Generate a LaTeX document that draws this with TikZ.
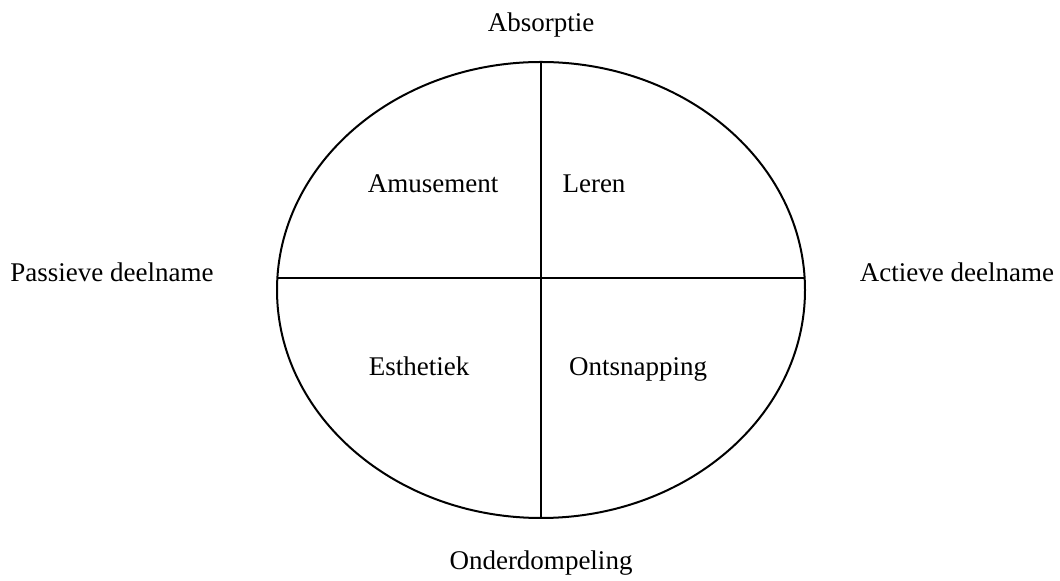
\documentclass[tikz,border=0pt]{standalone}
\usepackage{fontspec}
\setmainfont{Liberation Serif}
\usetikzlibrary{shapes.geometric}

\begin{document}
\begin{tikzpicture}[
    x=0.5pt, y=-0.5pt,
    lbl/.style={font=\fontsize{13.5}{16}\selectfont, inner sep=0pt, anchor=base},
    kwadrant/.style={lbl},
    rand/.style={line width=1pt},
]
\useasboundingbox (0,0) rectangle (1060,581);

%% Ellipse and axes
\node[ellipse, draw, rand, minimum width=264pt, minimum height=228pt, inner sep=0pt]
    (ell) at (541,290) {};
\coordinate (boven) at (541,62);
\coordinate (onder) at (541,518);
\coordinate (links) at (277.5,278);
\coordinate (rechts) at (804.5,278);
\draw[rand] (boven) -- (onder);
\draw[rand] (links) -- (rechts);

%% Axis labels
\node[lbl] (absorptie) at (541,32)  {Absorptie};
\node[lbl] (onderdomp) at (541,570) {Onderdompeling};
\node[lbl] (passief)   at (112,282) {Passieve deelname};
\node[lbl] (actief)    at (957,282) {Actieve deelname};

%% Quadrants
\node[kwadrant] (amusement)  at (433,193) {Amusement};
\node[kwadrant] (leren)      at (594,193) {Leren};
\node[kwadrant] (esthetiek)  at (419,376) {Esthetiek};
\node[kwadrant] (ontsnappen) at (638,376) {Ontsnapping};

\end{tikzpicture}
\end{document}
